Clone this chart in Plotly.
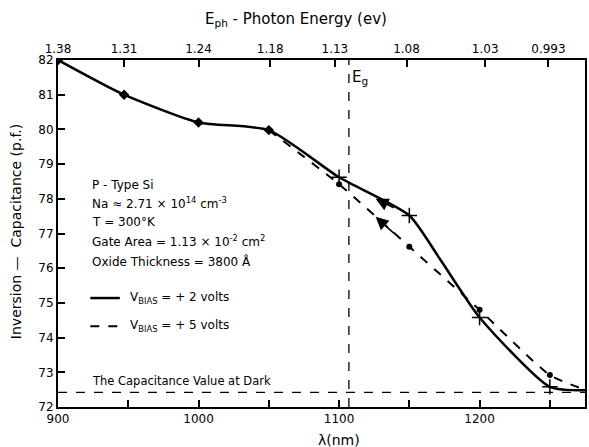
import plotly.graph_objects as go

# ---- data ----
# V_BIAS = +2 volts (solid) curve, including the shared part 900-1050 nm
solid_x = [900, 947, 1000, 1050, 1100, 1150, 1172, 1200, 1250, 1275]
solid_y = [82.0, 81.0, 80.2, 79.98, 78.62, 77.52, 76.25, 74.58, 72.58, 72.48]
# measured points on the shared part (diamonds)
shared_x = [900, 947, 1000, 1050]
shared_y = [82.0, 81.0, 80.2, 79.98]
# measured points V_BIAS = +2 (crosses)
cross_x = [1100, 1150, 1200, 1250]
cross_y = [78.62, 77.52, 74.58, 72.58]
# V_BIAS = +5 volts (dashed) curve
dash_x = [1050, 1100, 1150, 1200, 1250, 1275]
dash_y = [79.98, 78.42, 76.62, 74.80, 72.92, 72.50]
# measured points V_BIAS = +5 (dots)
dot_x = [1100, 1150, 1200, 1250]
dot_y = [78.42, 76.62, 74.80, 72.92]
# arrows on curves (head point, tail point)
arrow_head_x = [1126, 1126]
arrow_head_y = [78.00, 77.48]
arrow_tail_x = [1140, 1140]
arrow_tail_y = [77.72, 76.97]
# reference lines
EG = 1107
DARK = 72.42
# axes
x_ticks = [900, 950, 1000, 1050, 1100, 1150, 1200, 1250]
x_labels = ["900", "", "1000", "", "1100", "", "1200", ""]
e_labels = ["1.38", "1.31", "1.24", "1.18", "1.13", "1.08", "1.03", "0.993"]
e_ticks = [900, 947, 1000, 1051, 1097, 1148, 1204, 1249]
y_ticks = list(range(72, 83))
info_lines = [
    "P - Type Si",
    "Na ≈ 2.71 × 10<sup>14</sup> cm<sup>-3</sup>",
    "T = 300°K",
    "Gate Area = 1.13 × 10<sup>-2</sup> cm<sup>2</sup>",
    "Oxide Thickness = 3800 Å",
]
info_y = [78.40, 77.88, 77.33, 76.78, 76.18]

FONT = "DejaVu Sans"
fig = go.Figure()

fig.add_trace(go.Scatter(x=[900, 1275], y=[DARK, DARK], mode="lines",
                         line=dict(color="black", width=1.3, dash="dash"), showlegend=False))
fig.add_trace(go.Scatter(x=[EG, EG], y=[72, 82], mode="lines",
                         line=dict(color="black", width=1.3, dash="dash"), showlegend=False))

fig.add_trace(go.Scatter(x=dash_x, y=dash_y, mode="lines", line_shape="spline",
                         line=dict(color="black", width=2, dash="dash", smoothing=0.6),
                         showlegend=False))
fig.add_trace(go.Scatter(x=dot_x, y=dot_y, mode="markers",
                         marker=dict(symbol="circle", size=6, color="black"), showlegend=False))

fig.add_trace(go.Scatter(x=solid_x, y=solid_y, mode="lines", line_shape="spline",
                         line=dict(color="black", width=2.5, smoothing=0.6),
                         showlegend=False))
fig.add_trace(go.Scatter(x=shared_x, y=shared_y, mode="markers",
                         marker=dict(symbol="diamond", size=8, color="black"),
                         showlegend=False))
fig.add_trace(go.Scatter(x=cross_x, y=cross_y, mode="markers",
                         marker=dict(symbol="cross-thin", size=11, color="black",
                                     line=dict(color="black", width=1.5)),
                         showlegend=False))

# top axis helper trace
fig.add_trace(go.Scatter(x=[900], y=[82], xaxis="x2", mode="markers",
                         marker=dict(opacity=0), showlegend=False, hoverinfo="skip"))

tick_font = dict(family=FONT, size=12, color="black")
fig.update_layout(
    width=589, height=447,
    margin=dict(l=58, r=2, t=60, b=40),
    paper_bgcolor="white", plot_bgcolor="white",
    xaxis=dict(range=[900, 1275], tickvals=x_ticks, ticktext=x_labels,
               ticks="inside", ticklen=7, tickwidth=1.5, tickcolor="black",
               showline=True, linewidth=2, linecolor="black", showgrid=False,
               zeroline=False, tickfont=tick_font),
    xaxis2=dict(range=[900, 1275], overlaying="x", side="top",
                tickvals=e_ticks, ticktext=e_labels,
                ticks="inside", ticklen=7, tickwidth=1.5, tickcolor="black",
                showline=True, linewidth=2, linecolor="black", showgrid=False,
                zeroline=False, tickfont=tick_font),
    yaxis=dict(range=[72, 82], tickvals=y_ticks,
               ticks="inside", ticklen=7, tickwidth=1.5, tickcolor="black",
               showline=True, linewidth=2, linecolor="black", mirror=True,
               showgrid=False, zeroline=False, tickfont=tick_font),
)

ann = []
for hx, hy, tx, ty in zip(arrow_head_x, arrow_head_y, arrow_tail_x, arrow_tail_y):
    ann.append(dict(x=hx, y=hy, ax=tx, ay=ty, axref="x", ayref="y", xref="x", yref="y",
                    text="", showarrow=True, arrowhead=2, arrowsize=1.6, arrowwidth=1.6,
                    arrowcolor="black", standoff=0))
ann.append(dict(text="E<sub>ph</sub> - Photon Energy (ev)", xref="paper", yref="paper",
                x=(297 - 58) / 529, y=1 + (60 - 20) / 347, showarrow=False,
                xanchor="center", yanchor="middle",
                font=dict(family=FONT, size=15, color="black")))
ann.append(dict(text="λ(nm)", xref="paper", yref="paper",
                x=(340 - 58) / 529, y=-(440 - 407) / 347, showarrow=False,
                xanchor="center", yanchor="middle",
                font=dict(family=FONT, size=14, color="black")))
ann.append(dict(text="Inversion —  Capacitance (p.f.)", xref="paper", yref="paper",
                x=(16 - 58) / 529, y=(407 - 232) / 347, showarrow=False, textangle=-90,
                xanchor="center", yanchor="middle",
                font=dict(family=FONT, size=14, color="black")))
ann.append(dict(text="E<sub>g</sub>", x=1108, y=81.5, xanchor="left", yanchor="middle",
                showarrow=False, font=dict(family=FONT, size=15, color="black")))
for t, yy in zip(info_lines, info_y):
    ann.append(dict(text=t, x=923, y=yy, xanchor="left", yanchor="middle", showarrow=False,
                    font=dict(family=FONT, size=12, color="black")))
ann.append(dict(text="V<sub>BIAS</sub> = + 2 volts", x=950, y=75.14, xanchor="left",
                yanchor="middle", showarrow=False,
                font=dict(family=FONT, size=12, color="black")))
ann.append(dict(text="V<sub>BIAS</sub> = + 5 volts", x=950, y=74.33, xanchor="left",
                yanchor="middle", showarrow=False,
                font=dict(family=FONT, size=12, color="black")))
ann.append(dict(text="The Capacitance Value at Dark", x=923, y=72.75, xanchor="left",
                yanchor="middle", showarrow=False,
                font=dict(family=FONT, size=11.5, color="black")))
fig.update_layout(annotations=ann)

fig.add_shape(type="line", x0=923, x1=944, y0=75.14, y1=75.14,
              line=dict(color="black", width=2.5))
fig.add_shape(type="line", x0=923, x1=944, y0=74.33, y1=74.33,
              line=dict(color="black", width=2, dash="dash"))

fig.write_html("out.html")
